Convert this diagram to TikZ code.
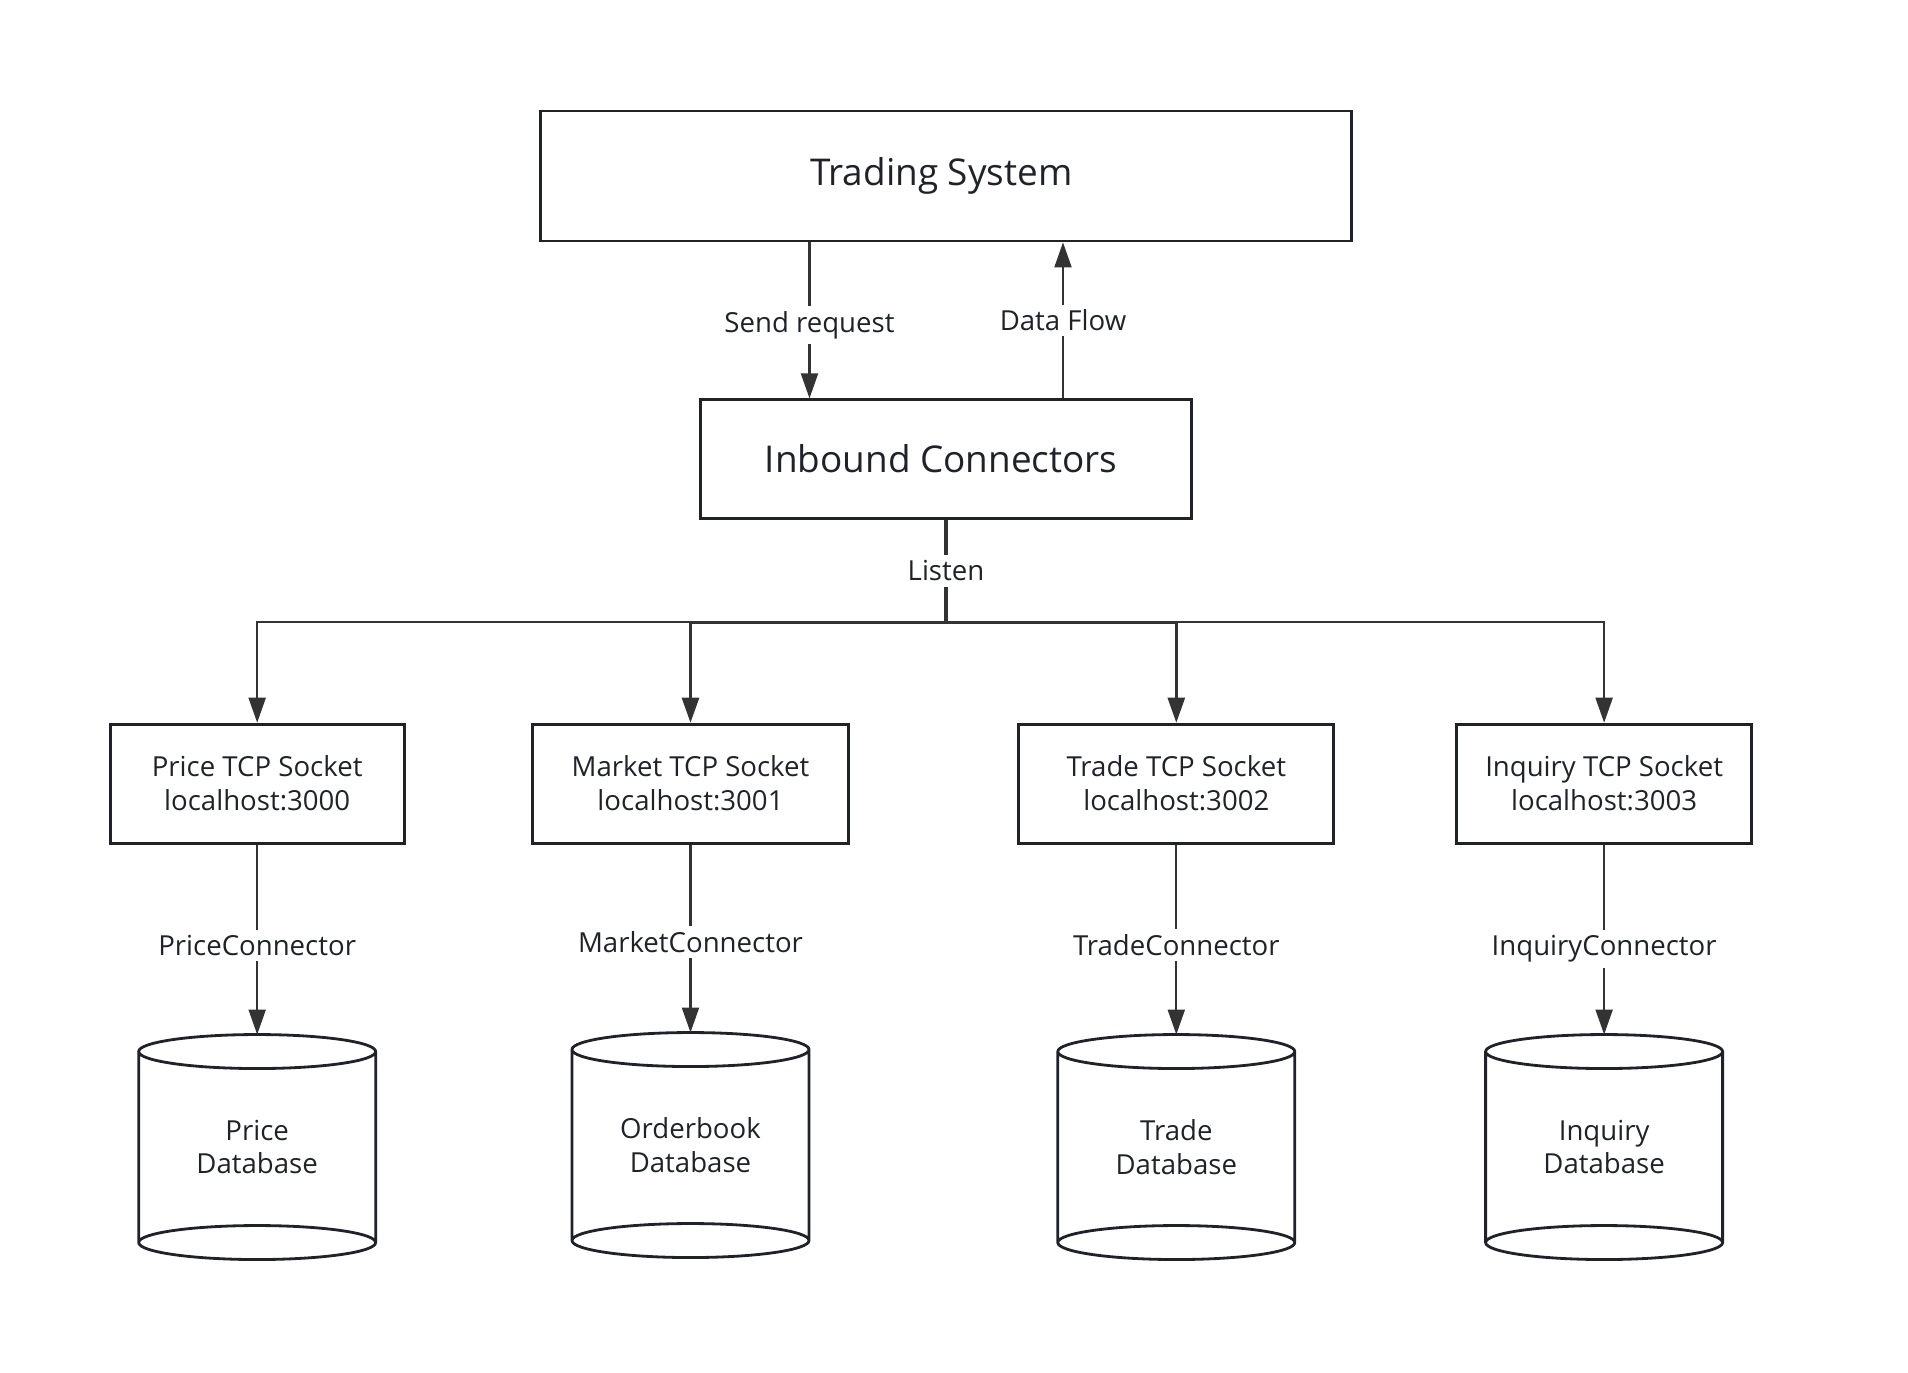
\documentclass[tikz,border=0pt]{standalone}
\usepackage{fontspec}
\setmainfont{Open Sans}
\usepackage{tikz}
\usetikzlibrary{positioning,arrows.meta}
\definecolor{lineGray}{HTML}{333333}
\definecolor{boxBlack}{HTML}{1F2329}

\begin{document}
\begin{tikzpicture}[
    font=\fontsize{15.7}{19.3}\selectfont,
    line width=1.2pt,
    box/.style={draw=boxBlack, line width=1.6pt, minimum height=2.38cm, align=center, text=boxBlack},
    bigbox/.style={box, font=\fontsize{21}{25}\selectfont},
    dbase/.style={minimum width=4.74cm, minimum height=4.5cm, outer sep=0pt, align=center, text=boxBlack},
    arr/.style={draw=lineGray, -{Triangle[length=0.5cm,width=0.34cm]}},
    lbl/.style={fill=white, text=boxBlack, inner sep=3pt}
]
\useasboundingbox (-18.92,3.52) rectangle (19.24,-23.92);

\node[bigbox,
    minimum width=16.21cm,
    minimum height=2.6cm
] (block1) at (0,0) { Trading System };

\node[bigbox,
    below=3.12cm of block1,
    minimum width=9.81cm,
    minimum height=2.37cm
] (block2) { Inbound Connectors };

\node[box,
    below=4.06cm of block2,
    xshift=-5.11cm,
    minimum width=6.32cm
] (block3M) { Market TCP Socket\\localhost:3001 };

\node[box,
    left=2.51cm of block3M,
    minimum width=5.88cm
] (block3P) { Price TCP Socket\\localhost:3000 };

\node[box,
    right=3.35cm of block3M,
    minimum width=6.30cm
] (block3T) { Trade TCP Socket\\localhost:3002 };

\node[box,
    right=2.40cm of block3T,
    minimum width=5.90cm
] (block3I) { Inquiry TCP Socket\\localhost:3003 };

\node[dbase, below=3.80cm of block3P] (block4P) { Price\\Database };
\node[dbase, below=3.76cm of block3M] (block4M) { Orderbook\\Database };
\node[dbase, below=3.80cm of block3T] (block4T) { Trade\\Database };
\node[dbase, below=3.80cm of block3I] (block4I) { Inquiry\\Database };

% database cylinders
\foreach \db in {block4P,block4M,block4T,block4I}
  \draw[draw=boxBlack, line width=1.6pt]
    ([yshift=-0.34cm]\db.north west) -- ([yshift=0.34cm]\db.south west)
    arc[start angle=180, end angle=360, x radius=2.37cm, y radius=0.34cm]
    -- ([yshift=-0.34cm]\db.north east)
    arc[start angle=0, end angle=360, x radius=2.37cm, y radius=0.34cm]
    ([yshift=0.34cm]\db.south west)
    arc[start angle=180, end angle=0, x radius=2.37cm, y radius=0.34cm];

\draw[arr] ([xshift=-2.73cm]block1.south) -- ([xshift=-2.73cm]block2.north) node [pos=0.53,lbl] { Send request };
\draw[arr] ([xshift=2.34cm]block2.north) -- ([xshift=2.34cm]block1.south) node [pos=0.5,lbl] { Data Flow };

\coordinate[below=2.05cm of block2] (bus);
\draw[draw=lineGray, line width=1.8pt] (block2) -- (bus) node [pos=0.5,lbl] { Listen };

\draw[arr] (bus) -| (block3P);
\draw[arr, line width=1.5pt] (bus) -| (block3M);
\draw[arr, line width=1.5pt] (bus) -| (block3T);
\draw[arr] (bus) -| (block3I);

\draw[arr] (block3P) -- (block4P) node [pos=0.53,lbl] { PriceConnector };
\draw[arr] (block3M) -- (block4M) node [pos=0.52,lbl] { MarketConnector };
\draw[arr] (block3T) -- (block4T) node [pos=0.53,lbl] { TradeConnector };
\draw[arr] (block3I) -- (block4I) node [pos=0.55,lbl] { InquiryConnector };

\end{tikzpicture}
\end{document}
